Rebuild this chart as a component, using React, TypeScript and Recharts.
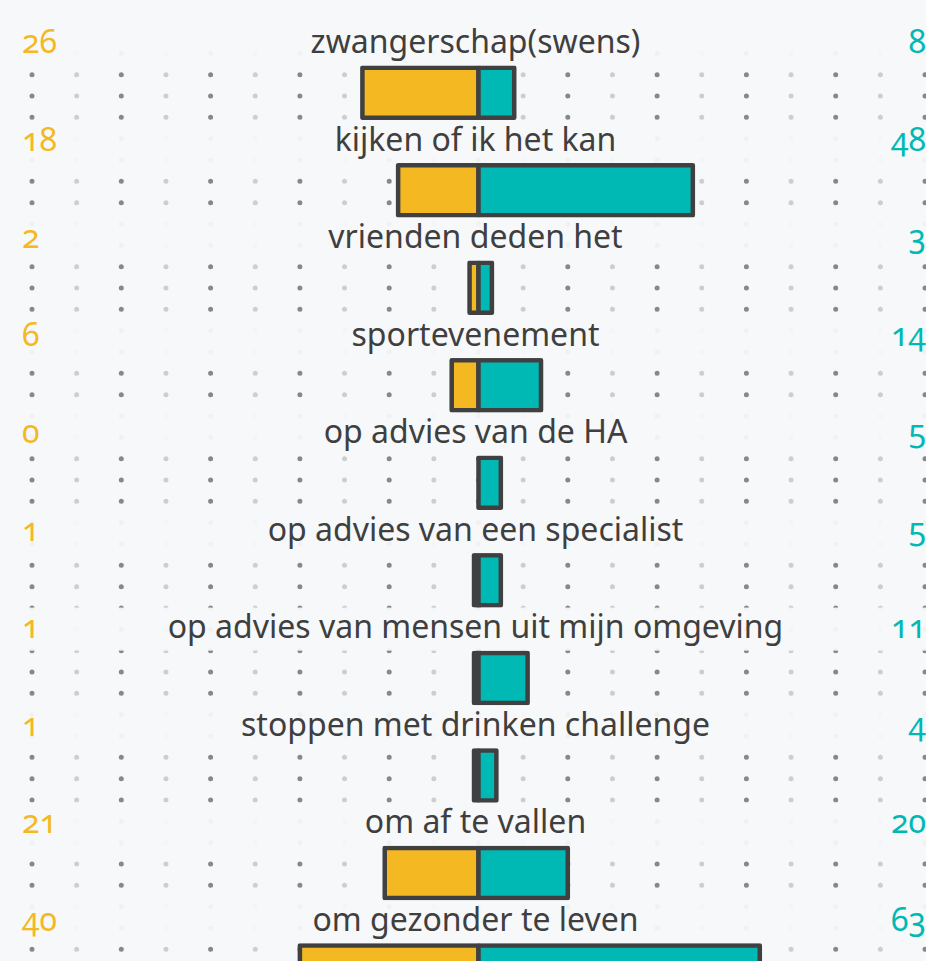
import React from 'react';
import { BarChart, Bar, XAxis, YAxis, CartesianGrid, LabelList } from 'recharts';

const CATEGORIES = [
  'zwangerschap(swens)',
  'kijken of ik het kan',
  'vrienden deden het',
  'sportevenement',
  'op advies van de HA',
  'op advies van een specialist',
  'op advies van mensen uit mijn omgeving',
  'stoppen met drinken challenge',
  'om af te vallen',
  'om gezonder te leven',
];
const LEFT_VALUES = [26, 18, 2, 6, 0, 1, 1, 1, 21, 40];
const RIGHT_VALUES = [8, 48, 3, 14, 5, 5, 11, 4, 20, 63];
const DARK_GRID = [-100, -80, -60, -40, -20, 0, 20, 40, 60, 80, 100];
const LIGHT_GRID = [-90, -70, -50, -30, -10, 10, 30, 50, 70, 90];
const ALL_TICKS = [...DARK_GRID, ...LIGHT_GRID].sort((a, b) => a - b);

const BG = '#F7F8FA';
const YELLOW = '#F4B823';
const TEAL = '#00B8B4';
const STROKE = '#404040';
const TEXT = '#3F3F3F';
const FONT = '"Noto Sans", "Open Sans", sans-serif';

const W = 926;
const H = 1040;
const BAR = 50;
const SW = 4.5;

const data = CATEGORIES.map((name, i) => ({
  name,
  left: -LEFT_VALUES[i],
  right: RIGHT_VALUES[i],
}));

function RowLabel(props: any) {
  const vb = props.viewBox ?? props;
  const x = Number(vb.x ?? props.x);
  const y = Number(vb.y ?? props.y);
  const h = Number(vb.height ?? props.height ?? BAR);
  const idx = CATEGORIES.indexOf(props.value);
  if (idx < 0 || !isFinite(x) || !isFinite(y)) return null;
  const outerTop = y - SW / 2;
  const gap = 97.53 - (h + SW);
  const baseline = y - 14.5;
  return (
    <g>
      <rect x={0} y={outerTop - gap} width={W} height={gap} fill={BG} fillOpacity={0.94} />
      <text
        x={x - 3}
        y={baseline}
        textAnchor="middle"
        fill={TEXT}
        fontSize={32}
        fontFamily={FONT}
      >
        {CATEGORIES[idx]}
      </text>
      <text
        x={22}
        y={baseline}
        textAnchor="start"
        fill={YELLOW}
        fontSize={32}
        fontFamily={FONT}
        style={{ fontVariantNumeric: 'oldstyle-nums' }}
      >
        {LEFT_VALUES[idx]}
      </text>
      <text
        x={926}
        y={baseline}
        textAnchor="end"
        fill={TEAL}
        fontSize={32}
        fontFamily={FONT}
        style={{ fontVariantNumeric: 'oldstyle-nums' }}
      >
        {RIGHT_VALUES[idx]}
      </text>
    </g>
  );
}

export default function App() {
  return (
    <div
      style={{
        position: 'absolute',
        left: 0,
        top: 0,
        width: W,
        height: 961,
        overflow: 'hidden',
        background: BG,
      }}
    >
      <BarChart
        width={W}
        height={H}
        data={data}
        layout="vertical"
        stackOffset="sign"
        margin={{ top: 43.74, right: 1, bottom: 21, left: 32 }}
      >
        <XAxis type="number" domain={[-100, 100]} ticks={ALL_TICKS} hide />
        <YAxis type="category" dataKey="name" hide />
        <CartesianGrid
          horizontal={false}
          verticalValues={LIGHT_GRID}
          stroke="#CDCED0"
          strokeWidth={5}
          strokeLinecap="round"
          strokeDasharray="0 21.333"
          strokeDashoffset={11.73}
        />
        <CartesianGrid
          horizontal={false}
          verticalValues={DARK_GRID}
          stroke="#87888A"
          strokeWidth={5}
          strokeLinecap="round"
          strokeDasharray="0 21.333"
          strokeDashoffset={11.73}
        />
        <Bar
          dataKey="left"
          stackId="s"
          barSize={BAR}
          fill={YELLOW}
          stroke={STROKE}
          strokeWidth={SW}
          strokeLinejoin="round"
          isAnimationActive={false}
        />
        <Bar
          dataKey="right"
          stackId="s"
          barSize={BAR}
          fill={TEAL}
          stroke={STROKE}
          strokeWidth={SW}
          strokeLinejoin="round"
          isAnimationActive={false}
        >
          <LabelList dataKey="name" content={RowLabel} />
        </Bar>
      </BarChart>
    </div>
  );
}
